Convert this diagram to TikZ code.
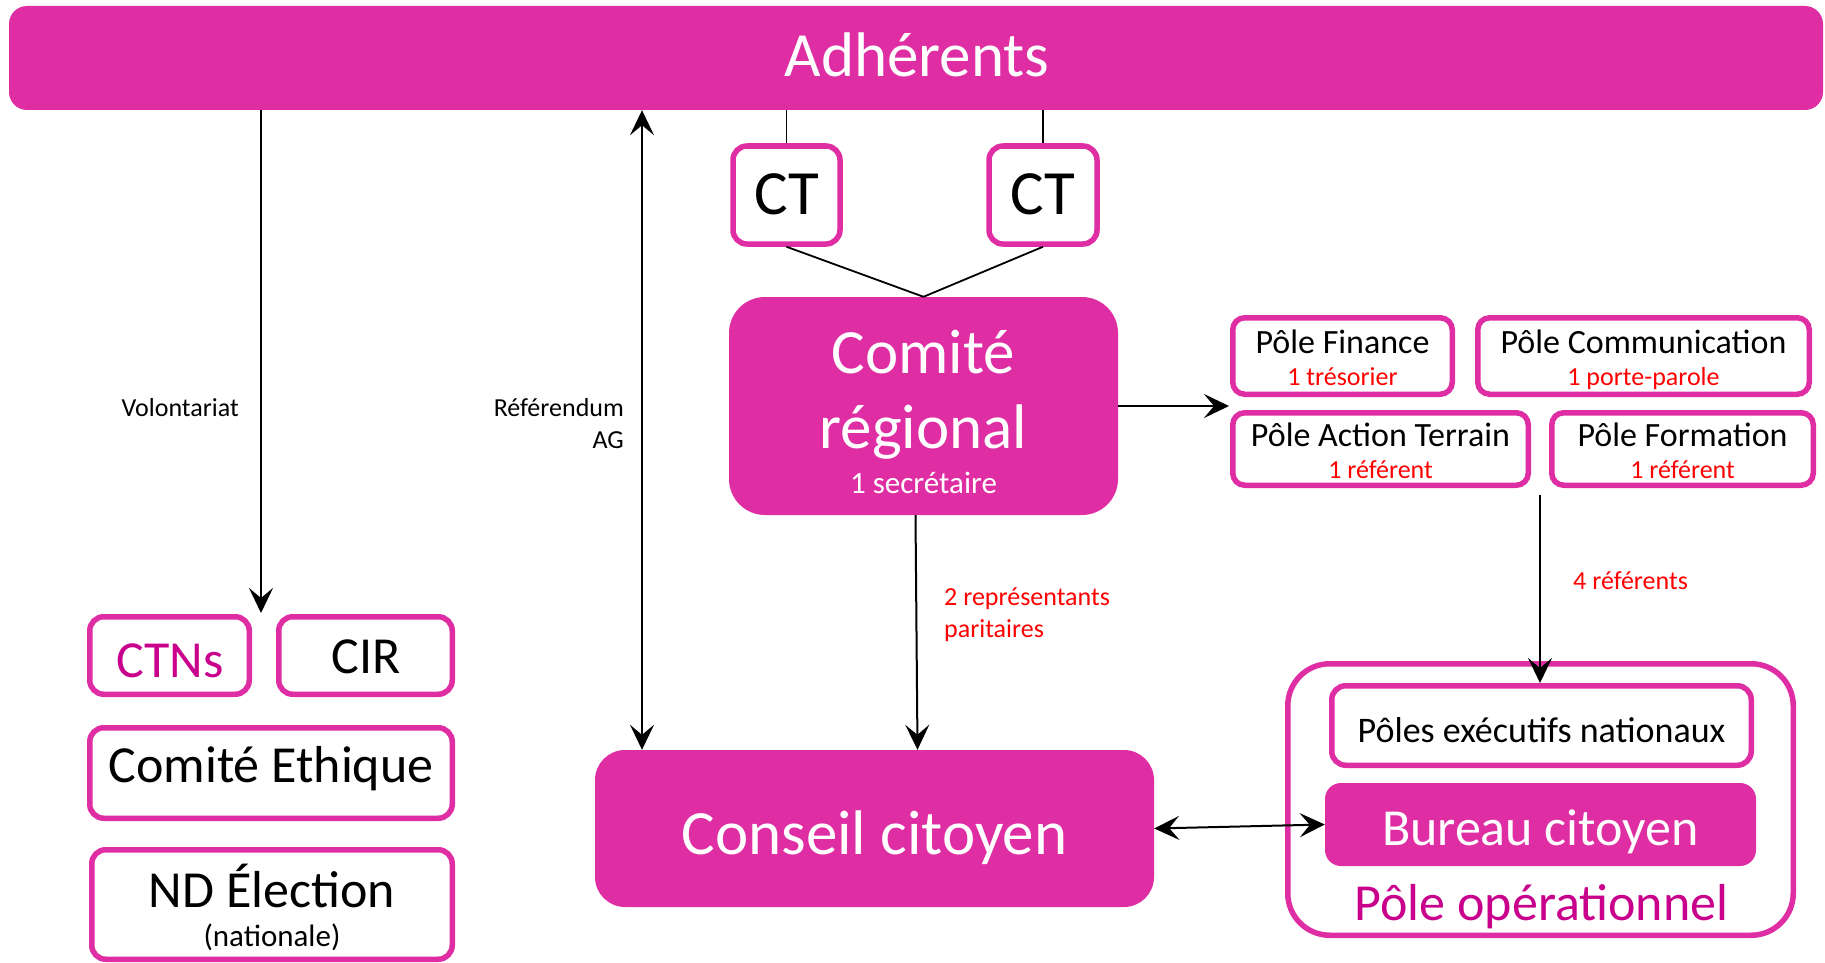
\documentclass[tikz,border=0pt]{standalone}
\usepackage{fontspec}
\setmainfont{Carlito}
\usetikzlibrary{arrows.meta,calc}
\definecolor{mag}{RGB}{223,46,164}
\definecolor{dmag}{RGB}{200,0,140}
\definecolor{rtxt}{RGB}{255,0,0}
\tikzset{
  fbox/.style={fill=mag, draw=none, inner sep=0pt},
  lbox/.style={draw=mag, line width=5.5pt, fill=white, inner sep=0pt, rounded corners=14pt},
  conn/.style={line width=2pt, draw=black},
  tip/.tip={Stealth[length=25pt,width=24pt,inset=10pt]},
  arr/.style={conn, -tip},
  darr/.style={conn, tip-tip},
  tx/.style={inner sep=0pt, anchor=base, font=\fontsize{#1}{#1}\selectfont},
}
\begin{document}
\begin{tikzpicture}[x=1pt,y=-1pt]
\path[use as bounding box] (0,0) rectangle (1825,963);

% ---------- boxes ----------
\node[fbox, rounded corners=18pt, minimum width=1814pt, minimum height=104pt] (adh) at (916,58) {};
\node[tx=63, text=white] (adhT) at (917,77) {Adhérents};

\node[lbox, minimum width=107pt, minimum height=98pt] (ct1) at (786.5,195) {};
\node[tx=63] (ct1T) at (786.5,214) {CT};
\node[lbox, minimum width=108pt, minimum height=98pt] (ct2) at (1043,195) {};
\node[tx=63] (ct2T) at (1043,214) {CT};

\node[fbox, rounded corners=36pt, minimum width=389pt, minimum height=218pt] (comite) at (923.5,406) {};
\node[tx=63, text=white] (comT1) at (923.5,373) {Comité};
\node[tx=63, text=white] (comT2) at (923.5,448) {régional};
\node[tx=31, text=white] (comT3) at (923.5,493) {1 secrétaire};

\node[lbox, rounded corners=12pt, minimum width=219.5pt, minimum height=76.5pt] (fin) at (1342.5,356) {};
\node[tx=34] (finT) at (1342.5,353) {Pôle Finance};
\node[tx=26, text=rtxt] (finR) at (1342.5,385) {1 trésorier};

\node[lbox, rounded corners=12pt, minimum width=331.5pt, minimum height=76.5pt] (com) at (1643.5,356) {};
\node[tx=34] (comTx) at (1643.5,353) {Pôle Communication};
\node[tx=26, text=rtxt] (comR) at (1643.5,385) {1 porte-parole};

\node[lbox, rounded corners=12pt, minimum width=295.5pt, minimum height=72.5pt] (act) at (1380.5,449) {};
\node[tx=34] (actT) at (1380.5,446) {Pôle Action Terrain};
\node[tx=26, text=rtxt] (actR) at (1380.5,478) {1 référent};

\node[lbox, rounded corners=12pt, minimum width=261.5pt, minimum height=72.5pt] (form) at (1682.5,449) {};
\node[tx=34] (formT) at (1682.5,446) {Pôle Formation};
\node[tx=26, text=rtxt] (formR) at (1682.5,478) {1 référent};

\node[lbox, rounded corners=42pt, minimum width=505.5pt, minimum height=271.5pt] (oper) at (1540.5,799.5) {};
\node[lbox, minimum width=419.5pt, minimum height=79.5pt] (exec) at (1541.5,725.5) {};
\node[tx=36] (execT) at (1541.5,742) {Pôles exécutifs nationaux};
\node[fbox, rounded corners=16pt, minimum width=431pt, minimum height=83pt] (bureau) at (1540.5,824.5) {};
\node[tx=52, text=white] (bureauT) at (1540.5,845) {Bureau citoyen};
\node[tx=52, text=dmag] (operT) at (1541.5,920) {Pôle opérationnel};

\node[fbox, rounded corners=30pt, minimum width=559pt, minimum height=157pt] (conseil) at (874.5,828.5) {};
\node[tx=63, text=white] (conseilT) at (874.5,854) {Conseil citoyen};

\node[lbox, minimum width=159.5pt, minimum height=77.5pt] (ctns) at (169.5,655.5) {};
\node[tx=52, text=dmag] (ctnsT) at (170,677) {CTNs};
\node[lbox, minimum width=173.5pt, minimum height=77.5pt] (cir) at (365.5,655.5) {};
\node[tx=52] (cirT) at (366,673) {CIR};
\node[lbox, minimum width=362.5pt, minimum height=90.5pt] (eth) at (271,773) {};
\node[tx=52] (ethT) at (271,782) {Comité Ethique};
\node[lbox, minimum width=360.5pt, minimum height=109.5pt] (nd) at (272,904.5) {};
\node[tx=52] (ndT) at (272,907) {ND Élection};
\node[tx=31] (ndT2) at (272,946) {(nationale)};

% ---------- coordinates ----------
\coordinate (volend) at (261,613);
\coordinate (refx) at (642,0);
\coordinate (poleIn) at (1229,405);
\coordinate (refstart) at (1540,495);

% ---------- connectors ----------
\draw[conn, line width=1.8pt] (ct1.north |- adh.south) -- (ct1.north);
\draw[conn, line width=1.8pt] (ct2.north |- adh.south) -- (ct2.north);
\draw[conn, line width=1.8pt] (ct1.south) -- (comite.north);
\draw[conn, line width=1.8pt] (ct2.south) -- (comite.north);

\draw[arr] (volend |- adh.south) -- (volend);
\node[tx=26, anchor=base east] (volT) at (239,416) {Volontariat};

\draw[darr] (refx |- adh.south) -- (refx |- conseil.north);
\node[tx=26, anchor=base east] (refT1) at (624,416) {Référendum};
\node[tx=26, anchor=base east] (refT2) at (624,448) {AG};

\draw[arr] (comite.east) -- (comite.east -| poleIn);

\draw[arr] ([xshift=-8pt]comite.south) -- ([xshift=43pt]conseil.north);
\node[tx=26, text=rtxt, anchor=base west] (repT1) at (944,605) {2 représentants};
\node[tx=26, text=rtxt, anchor=base west] (repT2) at (944,637) {paritaires};

\draw[arr] (refstart) -- (refstart |- exec.north);
\node[tx=26, text=rtxt, anchor=base west] (refsT) at (1573,589) {4 référents};

\draw[darr] (conseil.east) -- (bureau.west);
\end{tikzpicture}
\end{document}
